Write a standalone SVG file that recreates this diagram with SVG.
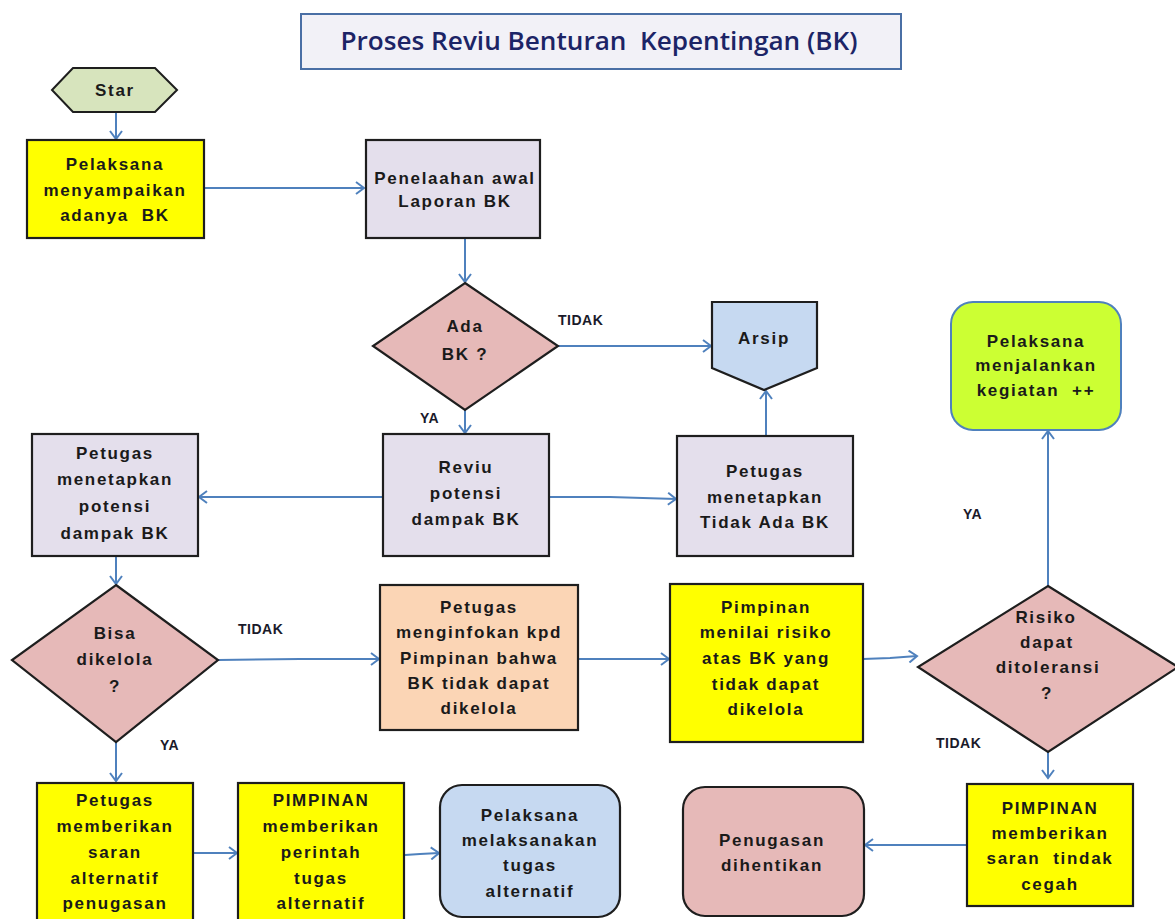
<svg xmlns="http://www.w3.org/2000/svg" width="1175" height="919" viewBox="0 0 1175 919">
<style>
.t{font-family:"Liberation Sans",Arial,sans-serif;font-size:17px;font-weight:bold;fill:#1a1a1a;text-anchor:middle;letter-spacing:1.7px;white-space:pre}
.lbl{font-family:"Liberation Sans",Arial,sans-serif;font-size:14px;font-weight:bold;fill:#1a1a2a;letter-spacing:0.5px}
.box{stroke:#1e1e1e;stroke-width:2.2}
.yel{fill:#ffff00}
.lav{fill:#e4dfec}
.pink{fill:#e6b9b8}
.con{stroke:#4f81bd;stroke-width:2;fill:none;marker-end:url(#ah)}
</style>
<defs>
<marker id="ah" markerUnits="userSpaceOnUse" markerWidth="12" markerHeight="14" refX="10" refY="7" orient="auto">
<path d="M2,1 L10,7 L2,13" fill="none" stroke="#4f81bd" stroke-width="2"/>
</marker>
</defs>
<rect width="1175" height="919" fill="#ffffff"/>

<g id="title">
<rect x="301" y="14" width="600" height="55" fill="#f2f1f7" stroke="#4a6fa5" stroke-width="2"/>
<text x="599" y="50" font-family="'Open Sans','Liberation Sans',sans-serif" font-size="26" font-weight="600" fill="#1c2466" text-anchor="middle" textLength="517" lengthAdjust="spacingAndGlyphs" style="white-space:pre">Proses Reviu Benturan  Kepentingan (BK)</text>
</g>

<g id="connectors">
<line class="con" x1="116" y1="113" x2="116" y2="139"/>
<line class="con" x1="205" y1="188" x2="364" y2="188"/>
<line class="con" x1="465" y1="239" x2="465" y2="282"/>
<line class="con" x1="558" y1="346" x2="711" y2="346"/>
<line class="con" x1="766" y1="436" x2="766" y2="391"/>
<line class="con" x1="465" y1="410" x2="465" y2="433"/>
<line class="con" x1="383" y1="497" x2="199" y2="497"/>
<polyline class="con" points="549,497 610,497 676,499"/>
<line class="con" x1="1048" y1="586" x2="1048" y2="431"/>
<line class="con" x1="116" y1="556" x2="116" y2="584"/>
<polyline class="con" points="218,660 300,659 379,659"/>
<line class="con" x1="578" y1="659" x2="669" y2="659"/>
<polyline class="con" points="863,659 890,658 917,656"/>
<line class="con" x1="1048" y1="752" x2="1048" y2="778"/>
<line class="con" x1="967" y1="845" x2="865" y2="845"/>
<line class="con" x1="116" y1="742" x2="116" y2="781"/>
<line class="con" x1="194" y1="853" x2="237" y2="853"/>
<polyline class="con" points="405,855 420,854 439,853"/>
</g>

<g id="labels">
<text class="lbl" x="558" y="325">TIDAK</text>
<text class="lbl" x="420" y="423">YA</text>
<text class="lbl" x="238" y="634">TIDAK</text>
<text class="lbl" x="160" y="750">YA</text>
<text class="lbl" x="963" y="519">YA</text>
<text class="lbl" x="936" y="748">TIDAK</text>
</g>

<g id="n-star">
<polygon points="52,90 73,68 155,68 177,90 155,112 73,112" fill="#d7e4bd" stroke="#1e1e1e" stroke-width="2"/>
<text class="t" x="115" y="96">Star</text>
</g>

<g id="n-pelaksana">
<rect class="box yel" x="27" y="140" width="177" height="98"/>
<text class="t" x="115" y="170">Pelaksana</text>
<text class="t" x="115" y="196">menyampaikan</text>
<text class="t" x="115" y="221">adanya  BK</text>
</g>

<g id="n-penelaahan">
<rect class="box lav" x="366" y="140" width="174" height="98"/>
<text class="t" x="455" y="184">Penelaahan awal</text>
<text class="t" x="455" y="207">Laporan BK</text>
</g>

<g id="n-ada">
<polygon class="box pink" points="465,283 558,346 465,410 373,346"/>
<text class="t" x="465" y="332">Ada</text>
<text class="t" x="465" y="360">BK ?</text>
</g>

<g id="n-arsip">
<polygon class="box" points="712,302 817,302 817,368 764,390 712,368" fill="#c6d9f1"/>
<text class="t" x="764" y="344">Arsip</text>
</g>

<g id="n-menjalankan">
<rect x="951" y="302" width="170" height="128" rx="22" fill="#ccff33" stroke="#4f81bd" stroke-width="2"/>
<text class="t" x="1036" y="347">Pelaksana</text>
<text class="t" x="1036" y="371">menjalankan</text>
<text class="t" x="1036" y="396">kegiatan  ++</text>
</g>

<g id="n-reviu">
<rect class="box lav" x="383" y="434" width="166" height="122"/>
<text class="t" x="466" y="473">Reviu</text>
<text class="t" x="466" y="499">potensi</text>
<text class="t" x="466" y="525">dampak BK</text>
</g>

<g id="n-potensi">
<rect class="box lav" x="32" y="434" width="166" height="122"/>
<text class="t" x="115" y="459">Petugas</text>
<text class="t" x="115" y="485">menetapkan</text>
<text class="t" x="115" y="512">potensi</text>
<text class="t" x="115" y="539">dampak BK</text>
</g>

<g id="n-tidakada">
<rect class="box lav" x="677" y="436" width="176" height="120"/>
<text class="t" x="765" y="477">Petugas</text>
<text class="t" x="765" y="503">menetapkan</text>
<text class="t" x="765" y="528">Tidak Ada BK</text>
</g>

<g id="n-bisa">
<polygon class="box pink" points="116,585 218,660 116,742 12,660"/>
<text class="t" x="115" y="639">Bisa</text>
<text class="t" x="115" y="665">dikelola</text>
<text class="t" x="115" y="692">?</text>
</g>

<g id="n-menginfokan">
<rect class="box" x="380" y="585" width="198" height="145" fill="#fbd5b5"/>
<text class="t" x="479" y="613">Petugas</text>
<text class="t" x="479" y="638">menginfokan kpd</text>
<text class="t" x="479" y="664">Pimpinan bahwa</text>
<text class="t" x="479" y="689">BK tidak dapat</text>
<text class="t" x="479" y="714">dikelola</text>
</g>

<g id="n-menilai">
<rect class="box yel" x="670" y="584" width="193" height="158"/>
<text class="t" x="766" y="613">Pimpinan</text>
<text class="t" x="766" y="638">menilai risiko</text>
<text class="t" x="766" y="664">atas BK yang</text>
<text class="t" x="766" y="690">tidak dapat</text>
<text class="t" x="766" y="715">dikelola</text>
</g>

<g id="n-risiko">
<polygon class="box pink" points="1048,586 1178,667 1048,752 918,667"/>
<text class="t" x="1046" y="623">Risiko</text>
<text class="t" x="1047" y="648">dapat</text>
<text class="t" x="1048" y="673">ditoleransi</text>
<text class="t" x="1047" y="699">?</text>
</g>

<g id="n-cegah">
<rect class="box yel" x="967" y="784" width="166" height="122"/>
<text class="t" x="1050" y="814">PIMPINAN</text>
<text class="t" x="1050" y="839">memberikan</text>
<text class="t" x="1050" y="864">saran  tindak</text>
<text class="t" x="1050" y="890">cegah</text>
</g>

<g id="n-dihentikan">
<rect class="box pink" x="683" y="787" width="181" height="129" rx="22"/>
<text class="t" x="772" y="846">Penugasan</text>
<text class="t" x="772" y="871">dihentikan</text>
</g>

<g id="n-saran">
<rect class="box yel" x="37" y="783" width="156" height="145"/>
<text class="t" x="115" y="806">Petugas</text>
<text class="t" x="115" y="832">memberikan</text>
<text class="t" x="115" y="858">saran</text>
<text class="t" x="115" y="884">alternatif</text>
<text class="t" x="115" y="909">penugasan</text>
</g>

<g id="n-perintah">
<rect class="box yel" x="238" y="783" width="166" height="145"/>
<text class="t" x="321" y="806">PIMPINAN</text>
<text class="t" x="321" y="832">memberikan</text>
<text class="t" x="321" y="858">perintah</text>
<text class="t" x="321" y="884">tugas</text>
<text class="t" x="321" y="909">alternatif</text>
</g>

<g id="n-melaksanakan">
<rect class="box" x="440" y="785" width="180" height="132" rx="22" fill="#c6d9f1"/>
<text class="t" x="530" y="821">Pelaksana</text>
<text class="t" x="530" y="846">melaksanakan</text>
<text class="t" x="530" y="871">tugas</text>
<text class="t" x="530" y="897">alternatif</text>
</g>
</svg>
